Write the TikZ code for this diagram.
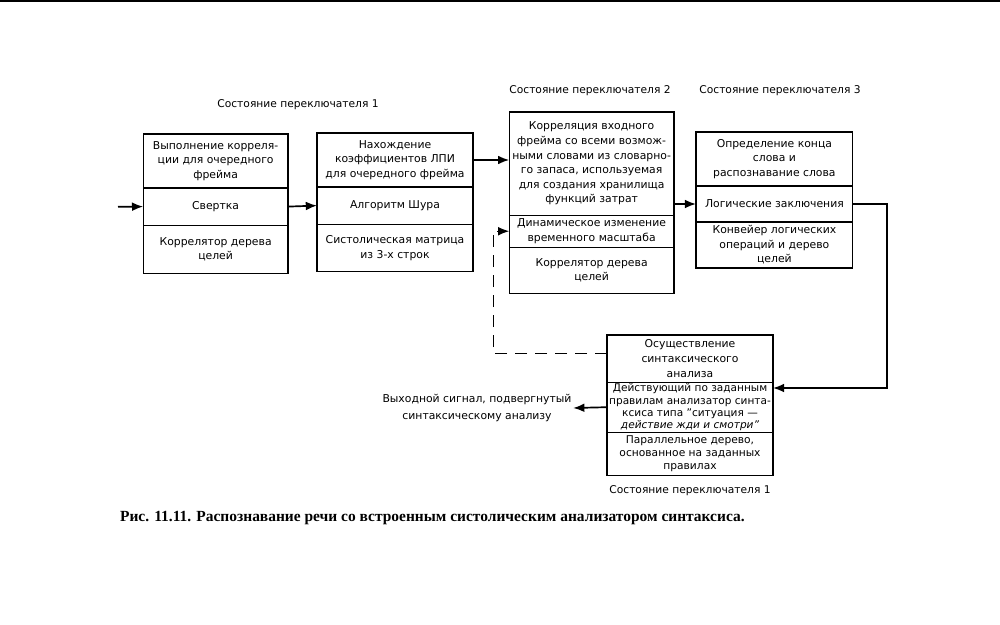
\documentclass[tikz,border=0pt]{standalone}
\usepackage{fontspec}
\setmainfont{DejaVu Sans}
\newfontfamily\capfont{Liberation Serif}
\usetikzlibrary{calc,arrows.meta,positioning}

\begin{document}
\begin{tikzpicture}[
  cell/.style={align=center, anchor=north, rectangle, draw, line width=0.9pt, outer sep=0pt, inner sep=1pt, font=\fontsize{7.7}{10.4}\selectfont},
  flow/.style={-{Latex[length=2.8mm,width=2.2mm]}, line width=1.2pt},
  state/.style={font=\fontsize{7.6}{9}\selectfont, inner sep=1pt}
]

\useasboundingbox (0,0) rectangle (25,-15.625);
\draw [line width=1.5pt] (0,-0.03) -- (25,-0.03);

\node [state] (st1) at (7.45,-2.625) {Состояние переключателя 1};
\node [state] (st2) at (14.75,-2.275) {Состояние переключателя 2};
\node [state] (st3) at (19.5,-2.275) {Состояние переключателя 3};

\coordinate (input1) at (2.95,-5.17);

\node [cell, minimum width=3.62cm, minimum height=1.35cm] (fr_corr) at (5.39,-3.35) {Выполнение корреля-\\ции для очередного\\фрейма};
\node [cell, minimum width=3.62cm, minimum height=0.93cm] (fr_conv) at (fr_corr.south) {Свертка};
\node [cell, minimum width=3.62cm, minimum height=1.2cm] (fr_tree) at (fr_conv.south) {Коррелятор дерева\\целей};

\node [cell, minimum width=3.9cm, minimum height=1.35cm] (lpc_coef) at (9.875,-3.325) {Нахождение\\коэффициентов ЛПИ\\для очередного фрейма};
\node [cell, minimum width=3.9cm, minimum height=0.93cm] (lpc_schur) at (lpc_coef.south) {Алгоритм Шура};
\node [cell, minimum width=3.9cm, minimum height=1.18cm] (lpc_sys) at (lpc_schur.south) {Систолическая матрица\\из 3-х строк};

\node [cell, minimum width=4.12cm, minimum height=2.58cm] (word_corr) at (14.79,-2.8) {Корреляция входного\\фрейма со всеми возмож-\\ными словами из словарно-\\го запаса, используемая\\для создания хранилища\\функций затрат};
\node [cell, minimum width=4.12cm, minimum height=0.8cm] (word_dtw) at (word_corr.south) {Динамическое изменение\\временного масштаба};
\node [cell, minimum width=4.12cm, minimum height=1.15cm] (word_tree) at (word_dtw.south) {Коррелятор дерева\\целей};

\node [cell, minimum width=3.92cm, minimum height=1.35cm] (log_end) at (19.36,-3.3) {Определение конца\\слова и\\распознавание слова};
\node [cell, minimum width=3.92cm, minimum height=0.9cm] (log_infer) at (log_end.south) {Логические заключения};
\node [cell, minimum width=3.92cm, minimum height=1.15cm] (log_pipe) at (log_infer.south) {Конвейер логических\\операций и дерево\\целей};

\node [cell, minimum width=4.15cm, minimum height=1.18cm] (syn_do) at (17.25,-8.375) {Осуществление\\синтаксического\\анализа};
\node [cell, minimum width=4.15cm, minimum height=1.25cm, font=\fontsize{7.5}{8.6}\selectfont] (syn_rule) at (syn_do.south) {Действующий по заданным\\правилам анализатор синта-\\ксиса типа ''ситуация —\\{\itshape действие жди и смотри''}};
\node [cell, minimum width=4.15cm, minimum height=1.08cm, font=\fontsize{7.6}{9.2}\selectfont] (syn_tree) at (syn_rule.south) {Параллельное дерево,\\основанное на заданных\\правилах};

\node [state, below=0.22cm of syn_tree] (st1b) {Состояние переключателя 1};

\coordinate (turn1) at (22.18,-9.7);
\coordinate (output1) at (14.33,-10.2);
\coordinate (dash1) at (12.33,-8.83);

\node [state, anchor=east, align=center, font=\fontsize{7.7}{12.5}\selectfont] (out_label) at (output1) {Выходной сигнал, подвергнутый\\синтаксическому анализу};

\draw [flow] (input1) -- (fr_conv.west);
\draw [flow] (fr_conv.east) -- (lpc_schur.west);
\draw [flow] (lpc_coef.east) -- (lpc_coef.east -| word_corr.west);
\draw [flow] (word_corr.east |- log_infer.west) -- (log_infer.west);
\draw [flow] (log_infer.east) -| (turn1) -- (turn1 -| syn_rule.east);
\draw [flow] (syn_rule.west) -- (output1);
\draw [flow, line width=0.8pt, dash pattern=on 3mm off 2mm] (syn_do.west |- dash1) -- (dash1) |- (word_dtw.west);

\node [font=\capfont\bfseries\fontsize{11}{13}\selectfont] (caption) at (10.81,-12.95) {Рис. 11.11. Распознавание речи со встроенным систолическим анализатором синтаксиса.};

\end{tikzpicture}
\end{document}
